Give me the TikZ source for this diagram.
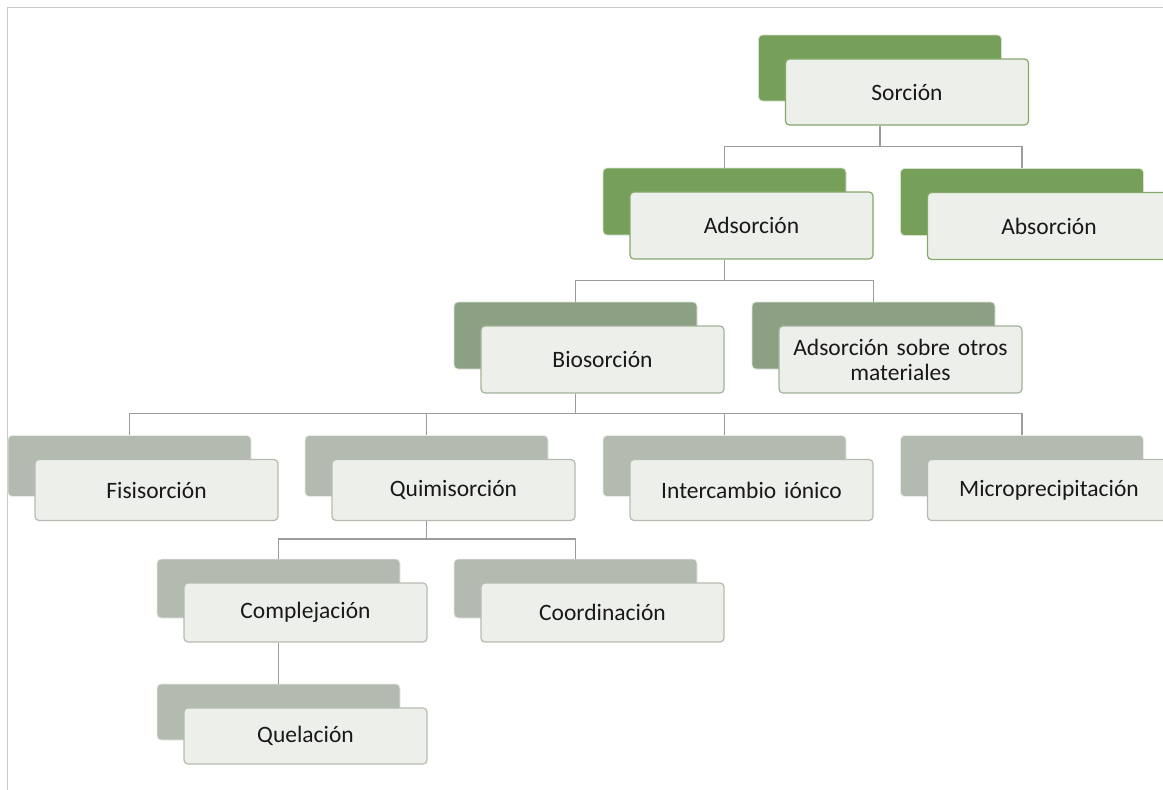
\documentclass[tikz,border=0pt]{standalone}
\usepackage{fontspec}
\setmainfont{Carlito}
\usetikzlibrary{calc}
\definecolor{leafgreen}{HTML}{76A05A}
\definecolor{sagegreen}{HTML}{8CA183}
\definecolor{ashgray}{HTML}{B3BBB0}
\definecolor{cardfill}{HTML}{EDEFEB}
\definecolor{cardgreen}{HTML}{86A86B}
\definecolor{cardsage}{HTML}{A3B29A}
\definecolor{cardgray}{HTML}{B5BBB1}
\definecolor{linkgray}{HTML}{9C9C9C}
\definecolor{framegray}{HTML}{C8C8C8}
\tikzset{
  backbox/.style={rectangle, rounded corners=4pt, minimum width=243pt, inner sep=0pt,
    fill=#1, draw=white!70!#1, line width=0.8pt},
  card/.style={rectangle, rounded corners=4pt, minimum width=243pt, inner sep=2pt,
    fill=cardfill, draw=#1, line width=1.2pt, text width=230pt, align=center,
    text=black!90, font=\fontsize{23.5}{25}\selectfont},
  link/.style={draw=linkgray, line width=1.6pt}
}

\begin{document}
\begin{tikzpicture}[x=1pt,y=-1pt]

\clip (0,0) rectangle (1163,790);
\draw[framegray, line width=1pt] (7,790) -- (7,7) -- (1163,7);

\foreach \nm/\x/\y/\h/\col/\edge/\txt in {
  sor/880/68/66/leafgreen/cardgreen/Sorción,
  ads/724.5/201.5/67/leafgreen/cardgreen/Adsorción,
  abs/1022/202/67/leafgreen/cardgreen/Absorción,
  bio/575.5/335.5/67/sagegreen/cardsage/Biosorción,
  otr/873.5/335.5/67/sagegreen/cardsage/{Adsorción sobre otros\\materiales},
  fis/129.5/466/61/ashgray/cardgray/Fisisorción,
  qui/426.5/466/61/ashgray/cardgray/Quimisorción,
  int/724.5/466/61/ashgray/cardgray/Intercambio iónico,
  mic/1022/466/61/ashgray/cardgray/Microprecipitación,
  com/278.5/588.5/59/ashgray/cardgray/Complejación,
  coo/575.5/588.5/59/ashgray/cardgray/Coordinación,
  que/278.5/712/56/ashgray/cardgray/Quelación} {
  \node[backbox=\col, minimum height=\h pt] (\nm-b) at (\x,\y) {};
  \node[card=\edge, minimum height=\h pt] (\nm) at (\x+27,\y+24) {\txt};
}

\draw[link] (sor-b |- sor.south) -- ++(0,21) -| (ads-b.north);
\draw[link] (sor-b |- sor.south) -- ++(0,21) -| (abs-b.north);
\draw[link] (ads-b |- ads.south) -- ++(0,21) -| (bio-b.north);
\draw[link] (ads-b |- ads.south) -- ++(0,21) -| (otr-b.north);
\foreach \kid in {fis,qui,int,mic}
  \draw[link] (bio-b |- bio.south) -- ++(0,20) -| (\kid-b.north);
\foreach \kid in {com,coo}
  \draw[link] (qui-b |- qui.south) -- ++(0,18) -| (\kid-b.north);
\draw[link] (que-b |- com.south) -- (que-b.north);

\end{tikzpicture}
\end{document}
